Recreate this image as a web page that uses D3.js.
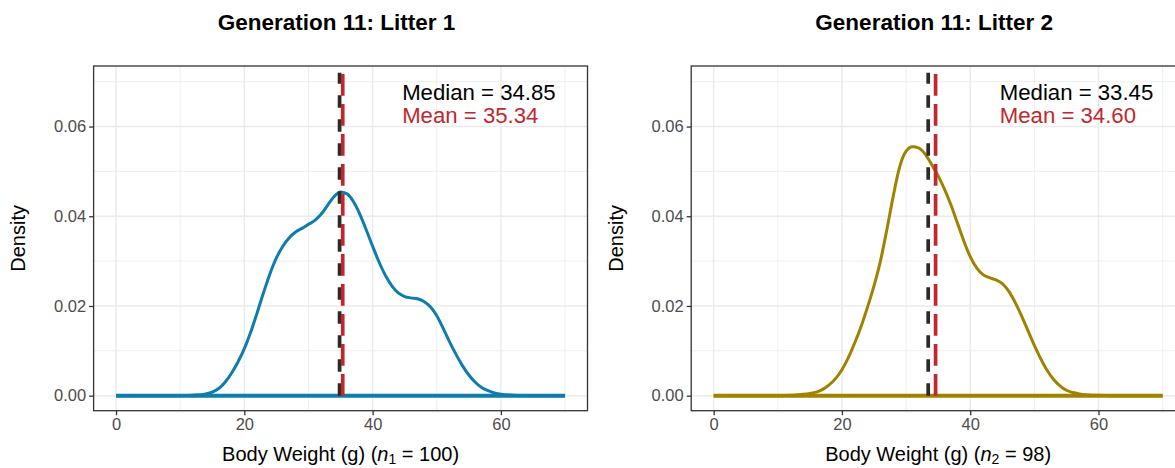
<!DOCTYPE html>
<html>
<head>
<meta charset="utf-8">
<script src="https://cdn.jsdelivr.net/npm/d3@7"></script>
<style>
  html, body { margin: 0; padding: 0; background: #ffffff; }
  svg { display: block; font-family: "Liberation Sans", Arial, Helvetica, sans-serif; }
</style>
</head>
<body>
<svg id="chart" width="1175" height="468"></svg>
<script>
// ---------------- data ----------------
const titles = ["Generation 11: Litter 1", "Generation 11: Litter 2"];
const sampleSizes = [100, 98];
const medians = [34.85, 33.45];
const means = [35.34, 34.60];
const curveColors = ["#0E7DAC", "#A08200"];

const gridX = [0, 10, 12, 14, 15, 16, 17, 18, 19, 20, 21, 22, 23, 24, 25, 26, 27, 28, 29, 30,
  31, 32, 33, 34, 35, 36, 37, 38, 39, 40, 41, 42, 43, 44, 45, 46, 47, 48, 49, 50,
  51, 52, 53, 54, 55, 56, 57, 58, 59, 60, 62, 64, 70];

const densityLitter1 = [0, 0, 0.0001, 0.0004, 0.0008, 0.0016, 0.0030, 0.0050, 0.0075, 0.0105,
  0.0142, 0.0185, 0.0230, 0.0272, 0.0307, 0.0333, 0.0352, 0.0365, 0.0373, 0.0382,
  0.0391, 0.0405, 0.0425, 0.0444, 0.0454, 0.0450, 0.0433, 0.0405, 0.0370, 0.0333,
  0.0298, 0.0268, 0.0245, 0.0229, 0.0221, 0.0218, 0.0216, 0.0210, 0.0198, 0.0178,
  0.0150, 0.0120, 0.0092, 0.0067, 0.0046, 0.0030, 0.0018, 0.0011, 0.0006, 0.0003,
  0.0001, 0, 0];

const densityLitter2 = [0, 0, 0.0001, 0.0003, 0.0005, 0.0008, 0.0014, 0.0024, 0.0038, 0.0058,
  0.0085, 0.0118, 0.0155, 0.0198, 0.0245, 0.0300, 0.0370, 0.0445, 0.0510, 0.0545,
  0.0555, 0.0552, 0.0538, 0.0515, 0.0490, 0.0460, 0.0425, 0.0385, 0.0345, 0.0310,
  0.0285, 0.0270, 0.0263, 0.0258, 0.0250, 0.0233, 0.0208, 0.0178, 0.0145, 0.0112,
  0.0082, 0.0056, 0.0036, 0.0022, 0.0012, 0.0007, 0.0004, 0.0002, 0.0001, 0.0001,
  0, 0, 0];

const densities = [densityLitter1, densityLitter2];

const xTicks = [0, 20, 40, 60];
const xMinor = [10, 30, 50, 70];
const yTicks = [0, 0.02, 0.04, 0.06];
const yMinor = [0.01, 0.03, 0.05, 0.07];
const yTickLabels = ["0.00", "0.02", "0.04", "0.06"];
const xDomain = [-3.5, 73.5];
const yDomain = [-0.00335, 0.0735];
const vlineTop = 0.072;
const annotX = 44.6;
const annotY = [0.0660, 0.0607];

// ---------------- drawing ----------------
const svg = d3.select("#chart");
const panelOffsets = [0, 597.6];
const panelLeft = 93.6, panelRight = 587.5, panelTop = 66, panelBottom = 410.7;

const y = d3.scaleLinear().domain(yDomain).range([panelBottom, panelTop]);

panelOffsets.forEach((off, i) => {
  const x = d3.scaleLinear().domain(xDomain).range([panelLeft + off, panelRight + off]);
  const g = svg.append("g");
  const cx = (panelLeft + panelRight) / 2 + off;

  // background
  g.append("rect").attr("x", x.range()[0]).attr("y", panelTop)
    .attr("width", x.range()[1] - x.range()[0]).attr("height", panelBottom - panelTop)
    .attr("fill", "#ffffff");

  // minor grid
  g.selectAll(".mx").data(xMinor).join("line")
    .attr("x1", d => x(d)).attr("x2", d => x(d)).attr("y1", panelTop).attr("y2", panelBottom)
    .attr("stroke", "#EBEBEB").attr("stroke-width", 0.8);
  g.selectAll(".my").data(yMinor).join("line")
    .attr("y1", d => y(d)).attr("y2", d => y(d)).attr("x1", x.range()[0]).attr("x2", x.range()[1])
    .attr("stroke", "#EBEBEB").attr("stroke-width", 0.8);
  // major grid
  g.selectAll(".gx").data(xTicks).join("line")
    .attr("x1", d => x(d)).attr("x2", d => x(d)).attr("y1", panelTop).attr("y2", panelBottom)
    .attr("stroke", "#EBEBEB").attr("stroke-width", 1.5);
  g.selectAll(".gy").data(yTicks).join("line")
    .attr("y1", d => y(d)).attr("y2", d => y(d)).attr("x1", x.range()[0]).attr("x2", x.range()[1])
    .attr("stroke", "#EBEBEB").attr("stroke-width", 1.5);

  // density curve
  const pts = gridX.map((v, k) => [v, densities[i][k]]);
  const line = d3.line().x(d => x(d[0])).y(d => y(d[1])).curve(d3.curveMonotoneX);
  g.append("path").attr("d", line(pts)).attr("fill", "none")
    .attr("stroke", curveColors[i]).attr("stroke-width", 3).attr("stroke-linejoin", "round");
  // baseline
  g.append("line").attr("x1", x(gridX[0])).attr("x2", x(gridX[gridX.length - 1]))
    .attr("y1", y(0)).attr("y2", y(0))
    .attr("stroke", curveColors[i]).attr("stroke-width", 4);

  // median (black dashed) and mean (red long dash), drawn bottom -> top
  g.append("line").attr("x1", x(medians[i])).attr("x2", x(medians[i]))
    .attr("y1", y(0)).attr("y2", y(vlineTop))
    .attr("stroke", "#2A2A2A").attr("stroke-width", 3.7).attr("stroke-dasharray", "12.4,11.6");
  g.append("line").attr("x1", x(means[i])).attr("x2", x(means[i]))
    .attr("y1", y(0)).attr("y2", y(vlineTop))
    .attr("stroke", "#C1272D").attr("stroke-width", 3.7).attr("stroke-dasharray", "21.7,8.3");

  // annotations
  g.append("text").attr("x", x(annotX)).attr("y", y(annotY[0]))
    .attr("font-size", 22.2).attr("fill", "#000000")
    .text("Median = " + medians[i].toFixed(2));
  g.append("text").attr("x", x(annotX)).attr("y", y(annotY[1]))
    .attr("font-size", 22.2).attr("fill", "#C1272D")
    .text("Mean = " + means[i].toFixed(2));

  // panel border
  g.append("rect").attr("x", x.range()[0]).attr("y", panelTop)
    .attr("width", x.range()[1] - x.range()[0]).attr("height", panelBottom - panelTop)
    .attr("fill", "none").attr("stroke", "#333333").attr("stroke-width", 1.3);

  // axes
  const xAxis = d3.axisBottom(x).tickValues(xTicks).tickSize(4.5).tickPadding(3).tickFormat(d3.format("d"));
  const ax = g.append("g").attr("transform", `translate(0,${panelBottom})`).call(xAxis);
  ax.select(".domain").remove();
  ax.selectAll(".tick line").attr("stroke", "#333333").attr("stroke-width", 1.3);
  ax.selectAll(".tick text").attr("fill", "#4D4D4D").attr("font-size", 16.5)
    .attr("font-family", "Liberation Sans, Arial, sans-serif");

  const yAxis = d3.axisLeft(y).tickValues(yTicks).tickSize(4.5).tickPadding(3)
    .tickFormat((d, k) => yTickLabels[k]);
  const ay = g.append("g").attr("transform", `translate(${x.range()[0]},0)`).call(yAxis);
  ay.select(".domain").remove();
  ay.selectAll(".tick line").attr("stroke", "#333333").attr("stroke-width", 1.3);
  ay.selectAll(".tick text").attr("fill", "#4D4D4D").attr("font-size", 16.5)
    .attr("font-family", "Liberation Sans, Arial, sans-serif");

  // title
  g.append("text").attr("x", cx - 4).attr("y", 30).attr("text-anchor", "middle")
    .attr("font-size", 22.5).attr("font-weight", "bold").attr("fill", "#000")
    .text(titles[i]);

  // axis titles
  g.append("text").attr("transform", `translate(${25 + off},${(panelTop + panelBottom) / 2}) rotate(-90)`)
    .attr("text-anchor", "middle").attr("font-size", 20).attr("fill", "#000").text("Density");

  const xt = g.append("text").attr("x", cx).attr("y", 461).attr("text-anchor", "middle")
    .attr("font-size", 20).attr("fill", "#000");
  xt.append("tspan").text("Body Weight (g) (");
  xt.append("tspan").attr("font-style", "italic").text("n");
  xt.append("tspan").attr("font-size", 14).attr("dy", 3).text(String(i + 1));
  xt.append("tspan").attr("dy", -3).text(" = " + sampleSizes[i] + ")");
});
</script>
</body>
</html>
